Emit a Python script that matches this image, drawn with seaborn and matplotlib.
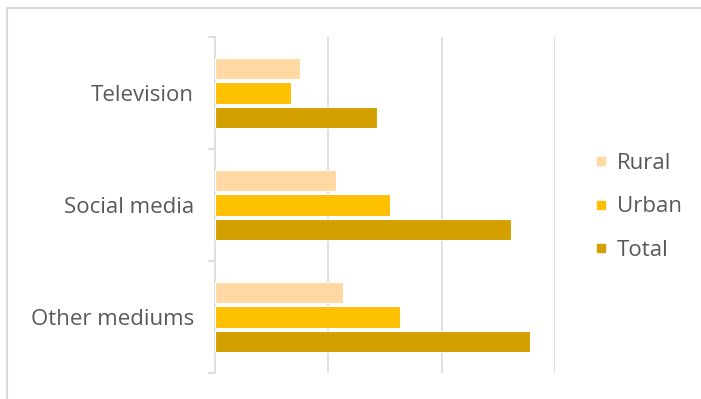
import matplotlib
matplotlib.use("Agg")
import matplotlib.pyplot as plt
from matplotlib.lines import Line2D
from matplotlib.patches import Rectangle
from matplotlib.ticker import FixedLocator
import pandas as pd
import seaborn as sns

# Share of respondents by information source and area
mediums = ["Television", "Social media", "Other mediums"]
areas = ["Rural", "Urban", "Total"]
rural = [7.5, 10.7, 11.3]
urban = [6.7, 15.4, 16.3]
total = [14.3, 26.1, 27.8]
colors = ["#FFD9A1", "#FFC000", "#D4A000"]

df = pd.DataFrame({
    "medium": mediums * 3,
    "area": ["Rural"] * 3 + ["Urban"] * 3 + ["Total"] * 3,
    "value": rural + urban + total,
})

sns.set_theme(style="white")
plt.rcParams["font.family"] = ["Open Sans", "DejaVu Sans"]

text_color = "#595959"
line_color = "#D9D9D9"

fig = plt.figure(figsize=(7.01, 3.99), dpi=100)
ax = fig.add_axes([215 / 701, 1 - 373 / 399, (555 - 215) / 701, (373 - 37) / 399])

sns.barplot(data=df, y="medium", x="value", hue="area", hue_order=areas,
            order=mediums, palette=colors, saturation=1, orient="h",
            width=0.66, gap=0.12, edgecolor="white", linewidth=0.8,
            legend=False, ax=ax, zorder=3)

ax.set_xlim(0, 30)
ax.set_ylim(2.5, -0.5)
ax.set_xlabel("")
ax.set_ylabel("")
ax.set_xticks([10, 20, 30])
ax.set_xticklabels([])
ax.tick_params(axis="x", length=0)
ax.grid(axis="x", color=line_color, linewidth=1.2, zorder=0)
ax.grid(axis="y", visible=False)

for side in ["top", "right", "bottom"]:
    ax.spines[side].set_visible(False)
ax.spines["left"].set_color(line_color)
ax.spines["left"].set_linewidth(1.2)

ax.yaxis.set_minor_locator(FixedLocator([-0.5, 0.5, 1.5, 2.5]))
ax.tick_params(axis="y", which="major", left=False, length=0, pad=15,
               labelsize=16, labelcolor=text_color)
ax.tick_params(axis="y", which="minor", left=True, length=5, width=1.2,
               color=line_color, direction="out")

handles = [Line2D([], [], marker="s", linestyle="none", markersize=6,
                  markerfacecolor=c, markeredgecolor=c) for c in colors]
fig.legend(handles, areas, loc="center left", bbox_to_anchor=(585 / 701, 1 - 207 / 399),
           frameon=False, fontsize=16, labelcolor=text_color, handlelength=0.6,
           handletextpad=0.45, labelspacing=1.02, borderaxespad=0)

# Light frame around the chart area, open to the right and bottom
fig.add_artist(Line2D([7, 7], [-10, 391], transform=None, color=line_color,
                      linewidth=1.5))
fig.add_artist(Line2D([7, 720], [391, 391], transform=None, color=line_color,
                      linewidth=1.5))

fig.savefig("out.png", dpi=100, facecolor="white")
